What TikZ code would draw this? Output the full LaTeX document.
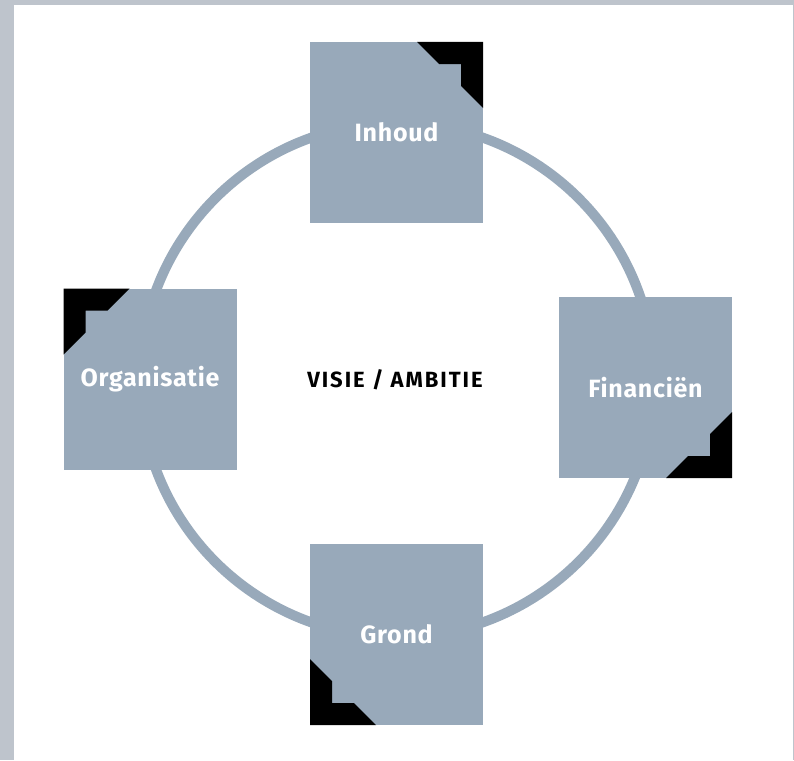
\documentclass[tikz,border=0pt]{standalone}
\usepackage{fontspec}
\setmainfont{Fira Sans}
\newfontfamily\boxfont[LetterSpace=3]{Fira Sans}
\newfontfamily\visiefont[LetterSpace=9]{Fira Sans}
\definecolor{boxgray}{HTML}{98A9BA}
\definecolor{framegray}{HTML}{BEC4CC}

\begin{document}
\begin{tikzpicture}[x=1pt, y=-1pt,
    box/.style={fill=boxgray, minimum width=173pt, minimum height=181pt,
                inner sep=0pt, outer sep=0pt, text=white,
                font=\boxfont\bfseries\fontsize{25}{29}\selectfont},
    corner/.style={fill=black}]
    \useasboundingbox (0,0) rectangle (794,760);
    \fill[framegray] (0,0) rectangle (794,760);
    \fill[white] (14,5) rectangle (793,760);
    \draw[boxgray, line width=10pt] (397,380) circle [radius=257];
    \node[box] (inhoud) at (396.5,132.5) {Inhoud};
    \node[box] (organisatie) at (150,379) {Organisatie};
    \node[box] (financien) at (645.5,387.5) {Financiën};
    \node[box] (grond) at (396.5,634.5) {Grond};
    \node[font=\visiefont\bfseries\fontsize{22}{26}\selectfont] (visie) at (395,380) {VISIE / AMBITIE};
    % black corners
    \fill[corner, shift={(inhoud.north east)}]
        (-66,0) -- (0,0) -- (0,66) -- (-22,44) -- (-22,22) -- (-44,22) -- cycle;
    \fill[corner, shift={(organisatie.north west)}]
        (66,0) -- (0,0) -- (0,66) -- (22,44) -- (22,22) -- (44,22) -- cycle;
    \fill[corner, shift={(financien.south east)}]
        (-66,0) -- (0,0) -- (0,-66) -- (-22,-44) -- (-22,-22) -- (-44,-22) -- cycle;
    \fill[corner, shift={(grond.south west)}]
        (66,0) -- (0,0) -- (0,-66) -- (22,-44) -- (22,-22) -- (44,-22) -- cycle;
\end{tikzpicture}
\end{document}
